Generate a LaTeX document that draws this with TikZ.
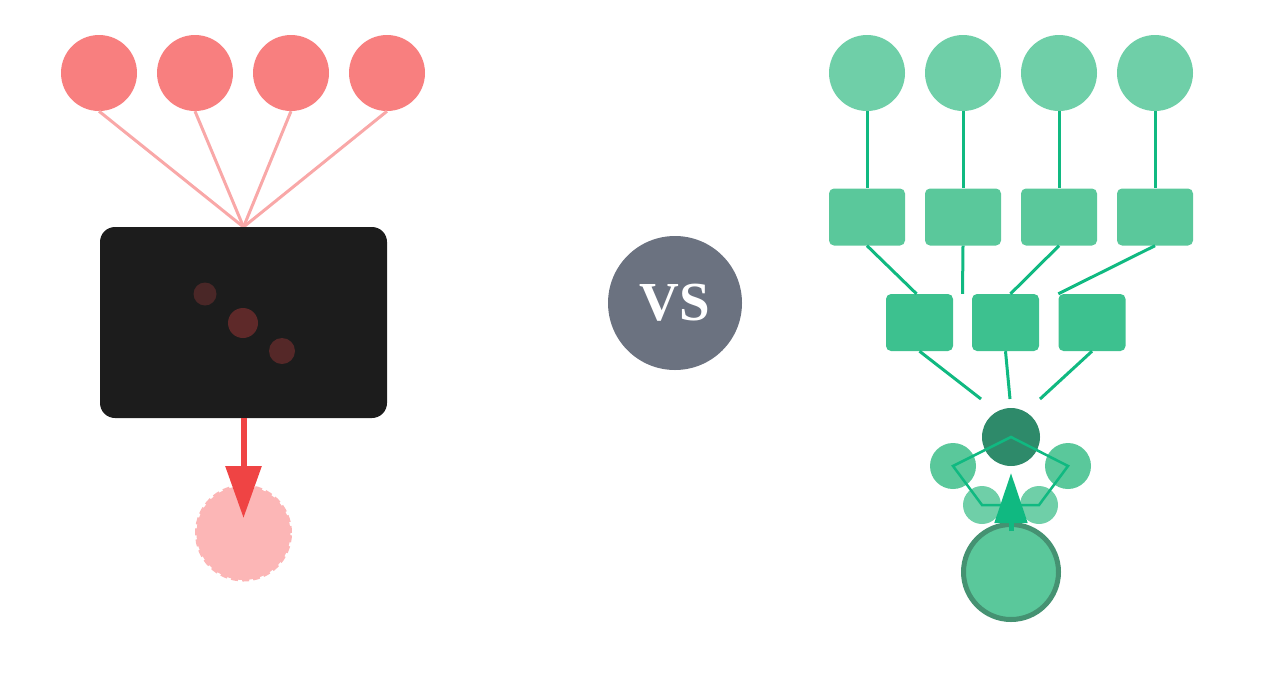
\documentclass[tikz,border=0pt]{standalone}
\usepackage{fontspec}
\setmainfont{Liberation Serif}
\usetikzlibrary{arrows.meta, positioning, calc}
\definecolor{redtop}{HTML}{F87F7F}
\definecolor{redline}{HTML}{F9A8A8}
\definecolor{redarrow}{HTML}{EF4444}
\definecolor{redfaint}{HTML}{FCB6B6}
\definecolor{boxblack}{HTML}{1C1C1C}
\definecolor{emberA}{HTML}{4A2727}
\definecolor{emberB}{HTML}{5E2929}
\definecolor{emberC}{HTML}{552828}
\definecolor{vsgray}{HTML}{6B7280}
\definecolor{greentop}{HTML}{6FCFA8}
\definecolor{greenmid}{HTML}{5AC89B}
\definecolor{greenlow}{HTML}{3DC18F}
\definecolor{greenline}{HTML}{10B981}
\definecolor{greendark}{HTML}{2E8A6A}
\definecolor{greenrim}{HTML}{459272}

\begin{document}
\begin{tikzpicture}[x=1pt, y=-1pt,
    dot/.style={circle, inner sep=0pt, minimum size=#1},
    redball/.style={dot=76pt, fill=redtop},
    greenball/.style={dot=76pt, fill=greentop},
    tilebig/.style={rectangle, rounded corners=5pt, fill=greenmid, minimum width=76pt, minimum height=57pt, inner sep=0pt},
    tilesmall/.style={rectangle, rounded corners=5pt, fill=greenlow, minimum width=67pt, minimum height=57pt, inner sep=0pt},
    pinkwire/.style={redline, line width=3pt},
    greenwire/.style={greenline, line width=3pt}]
    \useasboundingbox (0,0) rectangle (1276,678);

    % left side
    \foreach \x [count=\i] in {99,195,291,387}
        \node[redball] (a\i) at (\x,73) {};
    \foreach \i in {1,...,4}
        \draw[pinkwire] (a\i.south) -- (243.5,227);
    \node[rectangle, rounded corners=15pt, fill=boxblack, minimum width=287pt, minimum height=191pt] (blackbox) at (243.5,322.5) {};
    \fill[emberA] (205,294) circle (11.5pt);
    \fill[emberB] (243,323) circle (15pt);
    \fill[emberC] (282,351) circle (13pt);
    \node[dot=94pt, fill=redfaint, draw=redfaint, line width=3pt, dash pattern=on 7pt off 4pt] (lost) at (243.5,533) {};
    \coordinate (tipL) at (243.5,518);
    \draw[redarrow, line width=6pt, -{Triangle[length=52pt, width=35pt]}] (blackbox.south) -- (tipL);

    % middle
    \node[dot=134pt, fill=vsgray, text=white, font=\fontsize{55}{55}\selectfont\bfseries] (vs) at (675,303) {VS};

    % right side
    \foreach \x [count=\i] in {867,963,1059,1155} {
        \node[greenball] (b\i) at (\x,73) {};
        \node[tilebig] (r\i) at (\x,217) {};
        \draw[greenwire] (b\i.south) -- (r\i.north);
    }
    \foreach \x [count=\i] in {919.5,1005.5,1092}
        \node[tilesmall] (s\i) at (\x,322.5) {};
    \draw[greenwire] (r1.south) -- ([xshift=-3pt]s1.north);
    \draw[greenwire] (r2.south) -- ($(s1.north east)!.5!(s2.north west)$);
    \draw[greenwire] (r3.south) -- ([xshift=5pt]s2.north);
    \draw[greenwire] (r4.south) -- (s3.north west);
    \coordinate (h1) at (981,399);
    \coordinate (h2) at (1010,399);
    \coordinate (h3) at (1040,399);
    \draw[greenwire] (s1.south) -- (h1);
    \draw[greenwire] (s2.south) -- (h2);
    \draw[greenwire] (s3.south) -- (h3);

    \node[dot=58pt, fill=greendark] (hub) at (1011,437) {};
    \node[dot=46pt, fill=greenmid] (pl) at (953,466) {};
    \node[dot=46pt, fill=greenmid] (pr) at (1068,466) {};
    \node[dot=38pt, fill=greentop] (qll) at (982,505) {};
    \node[dot=38pt, fill=greentop] (qlr) at (1039,505) {};
    \draw[greenwire, line width=2.5pt] (hub.center) -- (pr.center) -- (qlr.center) -- (qll.center) -- (pl.center) -- cycle;
    \node[dot=95pt, fill=greenmid, draw=greenrim, line width=5pt] (seed) at (1011,572) {};
    \coordinate (tipR) at (1011,473);
    \draw[greenline, line width=5pt, -{Triangle[length=50pt, width=32pt]}] ([yshift=-9pt]seed.north) -- (tipR);
\end{tikzpicture}
\end{document}
